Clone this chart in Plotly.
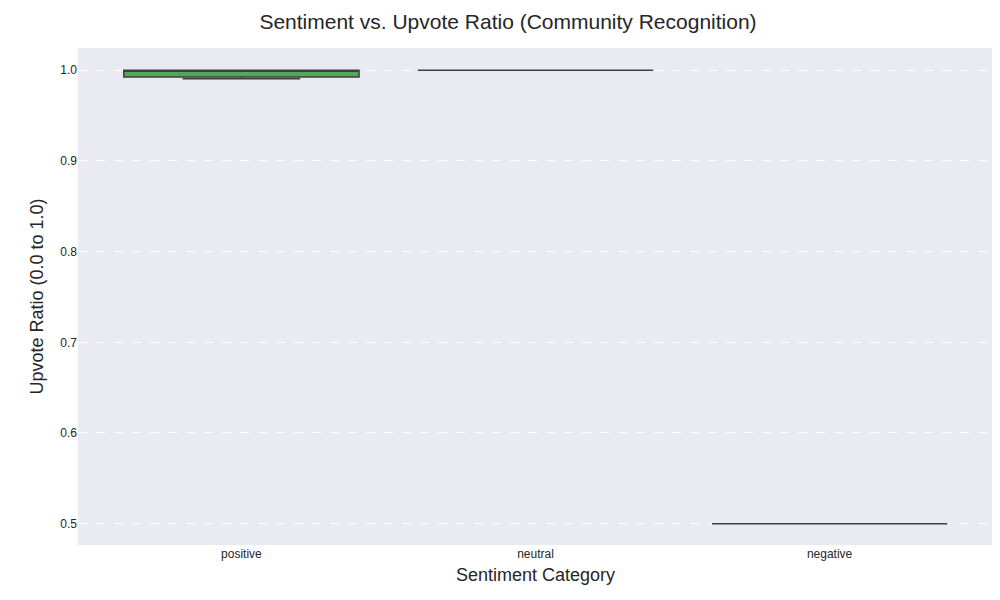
import plotly.graph_objects as go

categories = ["positive", "neutral", "negative"]
q1 = [0.9925, 1.0, 0.5]
median = [1.0, 1.0, 0.5]
q3 = [1.0, 1.0, 0.5]
lower = [0.9905, 1.0, 0.5]
upper = [1.0, 1.0, 0.5]
colors = ["#55a65a", "#4c72b0", "#c44e52"]

fig = go.Figure()
for i, c in enumerate(categories):
    fig.add_trace(go.Box(
        x=[c], q1=[q1[i]], median=[median[i]], q3=[q3[i]],
        lowerfence=[lower[i]], upperfence=[upper[i]],
        fillcolor=colors[i], line=dict(color="#3f3f3f", width=1.5),
        width=0.8, whiskerwidth=0.5, showlegend=False, boxpoints=False,
    ))

fig.update_layout(
    width=1000, height=600,
    paper_bgcolor="white", plot_bgcolor="#eaeaf2",
    margin=dict(l=70, r=15, t=40, b=63, autoexpand=False),
    font=dict(family="Arial, Liberation Sans", color="#262626"),
    title=dict(text="Sentiment vs. Upvote Ratio (Community Recognition)", x=0.5, xanchor="center",
               y=0.99, yanchor="top", font=dict(size=21)),
    xaxis=dict(title=dict(text="Sentiment Category", font=dict(size=18), standoff=8), showgrid=False,
               automargin=False, tickfont=dict(size=12), categoryorder="array", categoryarray=categories),
    yaxis=dict(title=dict(text="Upvote Ratio (0.0 to 1.0)", font=dict(size=18), standoff=12),
               automargin=False,
               range=[0.4765, 1.0245], tickvals=[0.5, 0.6, 0.7, 0.8, 0.9, 1.0], tickformat=".1f",
               gridcolor="white", griddash="dash", zeroline=False, tickfont=dict(size=12)),
)
fig.write_html("out.html")
